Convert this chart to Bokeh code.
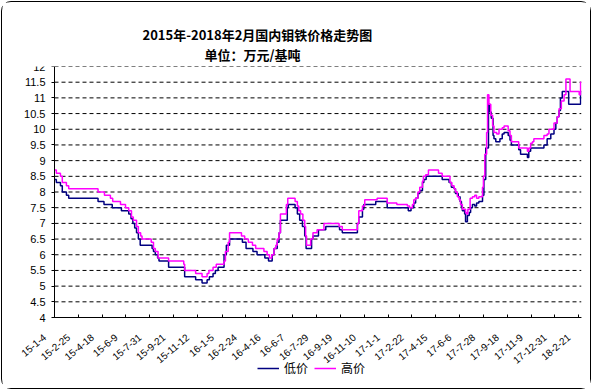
from math import pi
from datetime import datetime

from bokeh.plotting import figure
from bokeh.models import (Range1d, FixedTicker, Legend, LegendItem, Title,
                          LabelSet, ColumnDataSource)
from bokeh.core.properties import value
from bokeh.embed import file_html
from bokeh.resources import INLINE

# ---------------- data ----------------
START_DATE = "2015-01-04"          # day 0 of the category axis
END_DAY = 1150                     # last day shown (about 2018-02-27)

title_line1 = "2015年-2018年2月国内钼铁价格走势图"
title_line2 = "单位：万元/基吨"
series_names = ["低价", "高价"]

x_tick_labels = ["15-1-4", "15-2-25", "15-4-18", "15-6-9", "15-7-31", "15-9-21",
                 "15-11-12", "16-1-5", "16-2-24", "16-4-16", "16-6-7", "16-7-29",
                 "16-9-19", "16-11-10", "17-1-1", "17-2-22", "17-4-15", "17-6-6",
                 "17-7-28", "17-9-18", "17-11-9", "17-12-31", "18-2-21"]

y_ticks = [4, 4.5, 5, 5.5, 6, 6.5, 7, 7.5, 8, 8.5, 9, 9.5, 10, 10.5, 11, 11.5, 12]
y_tick_labels = ["4", "4.5", "5", "5.5", "6", "6.5", "7", "7.5", "8", "8.5", "9",
                 "9.5", "10", "10.5", "11", "11.5", "12"]
Y_MIN, Y_MAX = 4, 12

# low price (低价): day of change (days since START_DATE) and new price
low_days = [0, 4, 13, 17, 26, 31, 95, 108, 126, 146,
            162, 167, 171, 175, 179, 183, 187, 213, 216, 220,
            225, 228, 249, 284, 308, 322, 333, 338, 346, 351,
            357, 370, 375, 382, 410, 418, 433, 442, 459, 467,
            475, 479, 486, 490, 493, 508, 510, 525, 530, 535,
            541, 546, 549, 561, 564, 576, 592, 622, 628, 661,
            664, 672, 675, 701, 726, 772, 778, 784, 788, 793,
            797, 803, 806, 811, 846, 861, 866, 872, 875, 881,
            885, 888, 890, 895, 897, 901, 905, 908, 912, 917,
            921, 926, 934, 937, 941, 947, 950, 953, 957, 959,
            963, 972, 977, 981, 990, 994, 997, 1013, 1017, 1032,
            1035, 1039, 1068, 1075, 1083, 1090, 1094, 1097, 1101, 1104,
            1108, 1122, 1148]
low_price = [8.4, 8.3, 8.2, 8.0, 7.9, 7.8, 7.7, 7.6, 7.5, 7.4,
             7.3, 7.15, 7.0, 6.85, 6.7, 6.5, 6.3, 6.2, 6.1, 6.0,
             5.9, 5.8, 5.6, 5.3, 5.2, 5.1, 5.2, 5.3, 5.4, 5.5,
             5.6, 6.0, 6.3, 6.5, 6.4, 6.2, 6.1, 6.0, 5.9, 5.8,
             6.0, 6.2, 6.4, 6.7, 7.1, 7.5, 7.6, 7.5, 7.3, 7.1,
             6.9, 6.6, 6.2, 6.5, 6.6, 6.8, 6.9, 6.8, 6.7, 7.0,
             7.2, 7.45, 7.6, 7.7, 7.5, 7.4, 7.5, 7.65, 7.8, 7.95,
             8.05, 8.3, 8.4, 8.5, 8.4, 8.3, 8.15, 8.1, 7.95, 7.85,
             7.7, 7.5, 7.4, 7.3, 7.05, 7.25, 7.35, 7.5, 7.6, 7.55,
             7.65, 7.7, 7.9, 8.4, 9.4, 10.8, 10.55, 10.35, 9.8, 9.7,
             9.6, 9.7, 9.85, 9.9, 9.8, 9.65, 9.5, 9.35, 9.2, 9.1,
             9.3, 9.4, 9.5, 9.7, 9.85, 10.0, 10.2, 10.4, 10.6, 11.0,
             11.2, 10.8, 11.2]

# high price (高价)
high_days = [0, 4, 13, 17, 26, 31, 95, 109, 122, 127,
             144, 155, 162, 168, 172, 179, 183, 188, 191, 211,
             216, 220, 226, 249, 282, 284, 308, 322, 333, 337,
             346, 353, 370, 373, 379, 382, 408, 415, 423, 432,
             439, 457, 464, 469, 474, 479, 483, 486, 490, 493,
             506, 509, 525, 530, 533, 537, 542, 546, 548, 550,
             559, 564, 573, 588, 621, 628, 661, 664, 672, 677,
             704, 726, 747, 770, 775, 781, 784, 788, 793, 797,
             803, 805, 810, 816, 838, 846, 863, 867, 872, 875,
             879, 883, 886, 890, 897, 899, 902, 907, 912, 917,
             921, 926, 934, 936, 939, 943, 945, 948, 952, 956,
             959, 965, 970, 977, 981, 990, 994, 997, 1013, 1032,
             1035, 1039, 1043, 1046, 1068, 1075, 1079, 1090, 1097, 1101,
             1106, 1112, 1116, 1125, 1145, 1148]
high_price = [8.7, 8.6, 8.5, 8.3, 8.2, 8.1, 8.0, 7.9, 7.8, 7.7,
              7.6, 7.5, 7.4, 7.2, 7.1, 6.9, 6.7, 6.6, 6.5, 6.4,
              6.2, 6.1, 5.9, 5.8, 5.7, 5.5, 5.4, 5.3, 5.4, 5.5,
              5.6, 5.7, 5.8, 6.1, 6.4, 6.7, 6.6, 6.5, 6.4, 6.3,
              6.2, 6.1, 6.0, 5.9, 6.0, 6.2, 6.3, 6.5, 6.7, 7.3,
              7.6, 7.8, 7.7, 7.55, 7.4, 7.3, 7.1, 6.9, 6.6, 6.3,
              6.5, 6.7, 6.8, 7.0, 6.9, 6.8, 7.0, 7.4, 7.55, 7.75,
              7.8, 7.65, 7.6, 7.55, 7.5, 7.6, 7.75, 7.8, 8.0, 8.15,
              8.35, 8.5, 8.55, 8.7, 8.6, 8.5, 8.3, 8.2, 8.1, 8.0,
              7.85, 7.75, 7.6, 7.45, 7.35, 7.3, 7.45, 7.8, 7.85, 7.9,
              7.8, 7.85, 8.15, 8.5, 9.2, 9.9, 11.1, 10.8, 10.45, 10.1,
              9.9, 9.85, 10.0, 10.05, 10.1, 9.95, 9.8, 9.6, 9.4, 9.3,
              9.4, 9.55, 9.6, 9.7, 9.8, 9.85, 10.0, 10.2, 10.4, 10.65,
              10.9, 11.1, 11.6, 11.2, 11.1, 11.5]

# ---------------- layout (pixels) ----------------
W, H = 590, 388
LEFT_PAD, RIGHT_PAD, TOP_PAD, BOTTOM_PAD = 2, 11, 64, 8
AXIS_LEFT_PX = 52             # canvas x of the value axis
AXIS_BOTTOM_PX = 315          # canvas y of the category axis
px_per_unit = (AXIS_BOTTOM_PX - TOP_PAD) / (Y_MAX - Y_MIN)
px_per_day = (W - RIGHT_PAD - AXIS_LEFT_PX) / END_DAY
y_lo = Y_MIN - (H - BOTTOM_PAD - AXIS_BOTTOM_PX) / px_per_unit
x_lo = -(AXIS_LEFT_PX - LEFT_PAD) / px_per_day

# ---------------- derived ----------------
start = datetime.strptime(START_DATE, "%Y-%m-%d")
x_tick_days = [(datetime.strptime("20" + lab, "%Y-%m-%d") - start).days
               for lab in x_tick_labels]

FONT_CJK = "Noto Sans CJK SC"
FONT_NUM = "Liberation Sans"

p = figure(width=W, height=H, output_backend="svg", toolbar_location=None,
           x_range=Range1d(x_lo, END_DAY), y_range=Range1d(y_lo, Y_MAX),
           min_border_left=LEFT_PAD, min_border_right=RIGHT_PAD,
           min_border_top=TOP_PAD, min_border_bottom=BOTTOM_PAD,
           background_fill_color="white", border_fill_color="white",
           outline_line_color=None,
           styles={"border": "1px solid black", "border-radius": "10px",
                   "margin-left": "1px", "margin-top": "1px"})
p.xgrid.visible = False
p.ygrid.visible = False

# dashed value gridlines across the data area
p.segment(x0=0, x1=END_DAY, y0=y_ticks, y1=y_ticks, line_color="black",
          line_dash="4 3", line_width=1)

# value axis, standing on day 0
p.yaxis.fixed_location = 0
p.yaxis.ticker = FixedTicker(ticks=y_ticks)
p.yaxis.bounds = (Y_MIN, Y_MAX)
p.yaxis.major_label_overrides = dict(zip(y_ticks, y_tick_labels))
p.yaxis.major_label_text_font = FONT_NUM
p.yaxis.major_label_text_font_size = "11px"
p.yaxis.major_label_text_color = "black"
p.yaxis.major_tick_in = 0
p.yaxis.major_tick_out = 3
p.yaxis.major_label_standoff = 6
p.yaxis.minor_tick_line_color = None
p.yaxis.axis_line_color = "black"
p.yaxis.major_tick_line_color = "black"

# category (date) axis, sitting on y = 4
p.xaxis.fixed_location = Y_MIN
p.xaxis.ticker = FixedTicker(ticks=x_tick_days)
p.xaxis.bounds = (0, END_DAY)
p.xaxis.major_label_text_color = None
p.xaxis.major_tick_in = 3
p.xaxis.major_tick_out = 0
p.xaxis.minor_tick_line_color = None
p.xaxis.axis_line_color = "black"
p.xaxis.major_tick_line_color = "black"

# rotated date labels, hanging down-left of each tick
lab_src = ColumnDataSource(dict(x=x_tick_days, text=x_tick_labels))
p.add_layout(LabelSet(x="x", y=Y_MIN, text="text", source=lab_src,
                      angle=40 * pi / 180, x_offset=-10, y_offset=-18,
                      text_align="right", text_baseline="middle",
                      text_font=value(FONT_NUM), text_font_size="10px",
                      text_color="black"))

# series
low_x = low_days + [END_DAY]
low_y = low_price + [low_price[-1]]
high_x = high_days + [END_DAY]
high_y = high_price + [high_price[-1]]

r_low = p.step(low_x, low_y, mode="after", line_color="#000080", line_width=1.5)
r_high = p.step(high_x, high_y, mode="after", line_color="#FF00FF", line_width=1.5)

legend = Legend(items=[LegendItem(label=series_names[0], renderers=[r_low]),
                       LegendItem(label=series_names[1], renderers=[r_high])],
                location=(203 + AXIS_LEFT_PX - LEFT_PAD, 6), orientation="horizontal",
                border_line_color=None, background_fill_alpha=0,
                padding=0, margin=0, spacing=6, label_standoff=5,
                glyph_width=22, glyph_height=12, label_height=12,
                label_text_font=FONT_CJK, label_text_font_size="12px",
                label_text_color="black")
p.add_layout(legend)

# title (two lines, the first added sits nearest the plot)
p.add_layout(Title(text=title_line2, align="left", offset=150 + AXIS_LEFT_PX - LEFT_PAD,
                   vertical_align="top", standoff=2, text_font=FONT_CJK,
                   text_font_style="bold", text_font_size="13px",
                   text_color="black"), "above")
p.add_layout(Title(text=title_line1, align="left", offset=88 + AXIS_LEFT_PX - LEFT_PAD,
                   vertical_align="bottom", standoff=0, text_font=FONT_CJK,
                   text_font_style="bold", text_font_size="13px",
                   text_color="black"), "above")

open("out.html", "w").write(file_html(p, INLINE))
